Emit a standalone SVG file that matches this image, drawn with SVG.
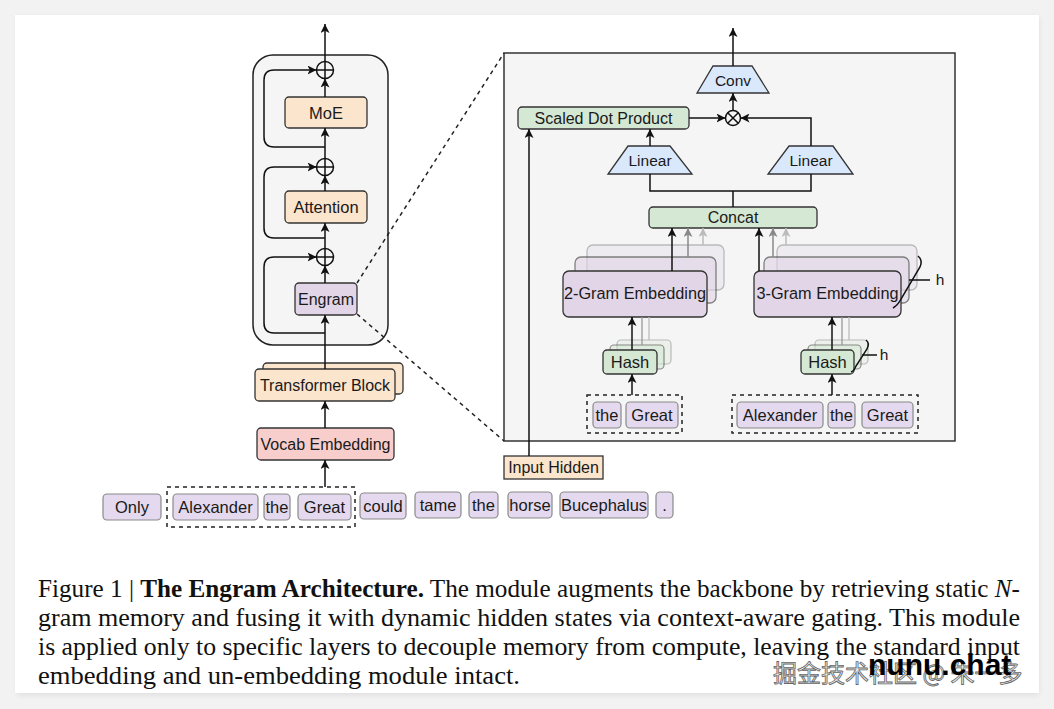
<svg xmlns="http://www.w3.org/2000/svg" width="1054" height="709" viewBox="0 0 1054 709">
<defs>
<marker id="ah" viewBox="0 0 10 10" refX="10" refY="5" markerWidth="9" markerHeight="9" markerUnits="userSpaceOnUse" orient="auto"><path d="M0,0 L10,5 L0,10 L2.5,5 Z" fill="#111"/></marker>
<marker id="ahg" viewBox="0 0 10 10" refX="10" refY="5" markerWidth="9" markerHeight="9" markerUnits="userSpaceOnUse" orient="auto"><path d="M0,0 L10,5 L0,10 L2.5,5 Z" fill="#888"/></marker>
<marker id="ahl" viewBox="0 0 10 10" refX="10" refY="5" markerWidth="9" markerHeight="9" markerUnits="userSpaceOnUse" orient="auto"><path d="M0,0 L10,5 L0,10 L2.5,5 Z" fill="#bbb"/></marker>
<filter id="sh" x="-5%" y="-5%" width="110%" height="110%"><feGaussianBlur stdDeviation="3"/></filter>
</defs>
<style>
.t{font-family:"Liberation Sans",Arial,sans-serif;fill:#1a1a1a;text-anchor:middle;dominant-baseline:central}
.peach{fill:#fce5cd;stroke:#333;stroke-width:1.3}
.lav{fill:#e1d5e7;stroke:#333;stroke-width:1.3}
.grn{fill:#d5e8d4;stroke:#333;stroke-width:1.3}
.blu{fill:#dae8fc;stroke:#333;stroke-width:1.3}
.pink{fill:#f8cecc;stroke:#333;stroke-width:1.3}
.tok{fill:#e4d9ee;stroke:#8a8a8a;stroke-width:1.2}
.ln{fill:none;stroke:#111;stroke-width:1.5}
.dash{fill:none;stroke:#222;stroke-width:1.5;stroke-dasharray:4,4}
.cap{font-family:"Liberation Serif","Times New Roman",serif;font-size:25px;fill:#111}
</style>
<rect x="0" y="0" width="1054" height="709" fill="#f2f2f2"/>
<rect x="17" y="17" width="1022" height="678" fill="#000" opacity="0.08" filter="url(#sh)"/>
<rect x="15" y="15" width="1024" height="678" fill="#fff"/>

<!-- Left column -->
<g id="block-container"><rect x="253" y="55" width="135" height="290" rx="20" fill="#f5f5f5" stroke="#222" stroke-width="1.5"/></g>

<g id="plus1"><circle cx="325" cy="70" r="8.5" fill="none" stroke="#111" stroke-width="1.5"/><path d="M316.5,70 H333.5 M325,61.5 V78.5" stroke="#111" stroke-width="1.5"/></g>
<g id="plus2"><circle cx="325" cy="167" r="8.5" fill="none" stroke="#111" stroke-width="1.5"/><path d="M316.5,167 H333.5 M325,158.5 V175.5" stroke="#111" stroke-width="1.5"/></g>
<g id="plus3"><circle cx="325" cy="257" r="8.5" fill="none" stroke="#111" stroke-width="1.5"/><path d="M316.5,257 H333.5 M325,248.5 V265.5" stroke="#111" stroke-width="1.5"/></g>

<g id="moe"><rect x="285" y="97" width="82" height="31" rx="4" class="peach"/><text x="326" y="112.5" class="t" font-size="16.5">MoE</text></g>
<g id="attention"><rect x="285" y="191" width="82" height="32" rx="4" class="peach"/><text x="326" y="207" class="t" font-size="16.5">Attention</text></g>
<g id="engram"><rect x="295" y="283" width="62" height="32" rx="4" class="lav"/><text x="326" y="299" class="t" font-size="16">Engram</text></g>

<g id="transformer-block">
<rect x="263" y="363" width="140" height="31" rx="4" class="peach"/>
<rect x="255" y="369" width="140" height="32" rx="4" class="peach"/>
<text x="325" y="385" class="t" font-size="16">Transformer Block</text></g>
<g id="vocab-embedding"><rect x="257" y="428" width="137" height="32" rx="4" class="pink"/><text x="325.5" y="444" class="t" font-size="16">Vocab Embedding</text></g>

<g id="tokens">
<rect x="167" y="487" width="188" height="40" class="dash"/>
<rect x="103" y="494" width="58" height="26" rx="4" class="tok"/><text x="132" y="507" class="t" font-size="16.5">Only</text>
<rect x="173" y="494" width="85" height="26" rx="4" class="tok"/><text x="215.5" y="507" class="t" font-size="16.5">Alexander</text>
<rect x="264" y="494" width="26" height="26" rx="4" class="tok"/><text x="277" y="507" class="t" font-size="16.5">the</text>
<rect x="298" y="494" width="53" height="26" rx="4" class="tok"/><text x="324.5" y="507" class="t" font-size="16.5">Great</text>
<rect x="360" y="493" width="46" height="26" rx="4" class="tok"/><text x="383" y="506" class="t" font-size="16.5">could</text>
<rect x="415" y="492" width="46" height="26" rx="4" class="tok"/><text x="438" y="505" class="t" font-size="16.5">tame</text>
<rect x="469" y="492" width="29" height="26" rx="4" class="tok"/><text x="483.5" y="505" class="t" font-size="16.5">the</text>
<rect x="508" y="492" width="44" height="26" rx="4" class="tok"/><text x="530" y="505" class="t" font-size="16.5">horse</text>
<rect x="560" y="492" width="88" height="26" rx="4" class="tok"/><text x="604" y="505" class="t" font-size="16.5">Bucephalus</text>
<rect x="656" y="492" width="17" height="26" rx="4" class="tok"/><text x="664.5" y="505" class="t" font-size="16.5">.</text>
</g>

<!-- Right panel -->
<g id="engram-panel"><rect x="504" y="53" width="451" height="388" fill="#f5f5f5" stroke="#333" stroke-width="1.5"/></g>

<g id="conv"><path d="M713,66 H752 L769,93 H697 Z" class="blu"/><text x="733" y="80" class="t" font-size="15.5">Conv</text></g>
<g id="otimes"><circle cx="733" cy="118" r="7.5" fill="none" stroke="#111" stroke-width="1.5"/><path d="M727.7,112.7 L738.3,123.3 M738.3,112.7 L727.7,123.3" stroke="#111" stroke-width="1.5"/></g>
<g id="scaled-dot-product"><rect x="518" y="107" width="171" height="22" rx="4" class="grn"/><text x="603.5" y="118" class="t" font-size="16">Scaled Dot Product</text></g>
<g id="linear-left"><path d="M628,146 H670 L692,174 H608 Z" class="blu"/><text x="650" y="160" class="t" font-size="15.5">Linear</text></g>
<g id="linear-right"><path d="M789,146 H833 L853,174 H768 Z" class="blu"/><text x="811" y="160" class="t" font-size="15.5">Linear</text></g>
<g id="concat"><rect x="649" y="207" width="168" height="21" rx="4" class="grn"/><text x="733" y="217.5" class="t" font-size="16">Concat</text></g>

<g id="emb2">
<rect x="587" y="245" width="137" height="45" rx="6" fill="#e1d5e7" stroke="#333" stroke-width="1.3" opacity="0.3"/>
<rect x="575" y="257" width="141" height="46" rx="6" fill="#e1d5e7" stroke="#333" stroke-width="1.3" opacity="0.6"/>
<rect x="563" y="271" width="144" height="46" rx="6" class="lav"/>
<text x="635" y="293" class="t" font-size="16.3">2-Gram Embedding</text></g>
<g id="emb3">
<rect x="777" y="245" width="140" height="45" rx="6" fill="#e1d5e7" stroke="#333" stroke-width="1.3" opacity="0.3"/>
<rect x="764" y="257" width="145" height="46" rx="6" fill="#e1d5e7" stroke="#333" stroke-width="1.3" opacity="0.6"/>
<rect x="754" y="271" width="147" height="46" rx="6" class="lav"/>
<text x="827.5" y="293" class="t" font-size="16.3">3-Gram Embedding</text>
<path d="M918,256 q5,4 2,11 L901,299 q-3,6 -8,9" class="ln" stroke-width="1.3"/>
<path d="M909,280 H930" class="ln" stroke-width="1.3"/>
<text x="940" y="279" class="t" font-size="15.5">h</text></g>

<g id="hash2">
<rect x="617" y="340" width="54" height="24" rx="4" fill="#d5e8d4" stroke="#333" stroke-width="1.2" opacity="0.3"/>
<rect x="610" y="345" width="54" height="24" rx="4" fill="#d5e8d4" stroke="#333" stroke-width="1.2" opacity="0.55"/>
<rect x="603" y="350" width="54" height="24" rx="4" class="grn"/>
<text x="630" y="362" class="t" font-size="16.5">Hash</text></g>
<g id="hash3">
<rect x="815" y="340" width="53" height="24" rx="4" fill="#d5e8d4" stroke="#333" stroke-width="1.2" opacity="0.3"/>
<rect x="808" y="345" width="53" height="24" rx="4" fill="#d5e8d4" stroke="#333" stroke-width="1.2" opacity="0.55"/>
<rect x="801" y="350" width="53" height="24" rx="4" class="grn"/>
<text x="827.5" y="362" class="t" font-size="16.5">Hash</text>
<path d="M866,340 q4,3 1,9 L856,366 q-2,5 -5,6" class="ln" stroke-width="1.3"/>
<path d="M862,355 H877" class="ln" stroke-width="1.3"/>
<text x="884" y="354" class="t" font-size="15.5">h</text></g>

<g id="tokens2">
<rect x="587" y="395" width="95" height="38" class="dash" stroke-width="1.2"/>
<rect x="593" y="402" width="28" height="26" rx="4" class="tok"/><text x="607" y="415" class="t" font-size="16.5">the</text>
<rect x="626" y="402" width="52" height="26" rx="4" class="tok"/><text x="652" y="415" class="t" font-size="16.5">Great</text></g>
<g id="tokens3">
<rect x="732" y="395" width="186" height="38" class="dash" stroke-width="1.2"/>
<rect x="737" y="402" width="86" height="26" rx="4" class="tok"/><text x="780" y="415" class="t" font-size="16.5">Alexander</text>
<rect x="828" y="402" width="27" height="26" rx="4" class="tok"/><text x="841.5" y="415" class="t" font-size="16.5">the</text>
<rect x="862" y="402" width="51" height="26" rx="4" class="tok"/><text x="887.5" y="415" class="t" font-size="16.5">Great</text></g>

<g id="input-hidden"><rect x="504" y="456" width="99" height="23" class="peach" stroke-width="1.2"/><text x="553.5" y="467.5" class="t" font-size="16">Input Hidden</text></g>

<g id="connectors">
<path d="M325,61.5 V24" class="ln" marker-end="url(#ah)"/>
<path d="M325,97 V78.5" class="ln" marker-end="url(#ah)"/>
<path d="M325,158.5 V128" class="ln" marker-end="url(#ah)"/>
<path d="M325,191 V175.5" class="ln" marker-end="url(#ah)"/>
<path d="M325,248.5 V223" class="ln" marker-end="url(#ah)"/>
<path d="M325,283 V265.5" class="ln" marker-end="url(#ah)"/>
<path d="M325,369 V315" class="ln" marker-end="url(#ah)"/>
<path d="M325,428 V401" class="ln" marker-end="url(#ah)"/>
<path d="M325,487 V460" class="ln" marker-end="url(#ah)"/>
<path d="M325,147 H274 Q264,147 264,137 V80 Q264,70 274,70 H316.5" class="ln" marker-end="url(#ah)"/>
<path d="M325,238 H274 Q264,238 264,228 V177 Q264,167 274,167 H316.5" class="ln" marker-end="url(#ah)"/>
<path d="M325,333 H274 Q264,333 264,323 V267 Q264,257 274,257 H316.5" class="ln" marker-end="url(#ah)"/>
<path d="M357,283 L504,53" class="dash"/>
<path d="M357,314 L504,441" class="dash"/>
<path d="M733,66 V28" class="ln" marker-end="url(#ah)"/>
<path d="M733,110.5 V93" class="ln" marker-end="url(#ah)"/>
<path d="M689,118 H725.5" class="ln" marker-end="url(#ah)"/>
<path d="M811,146 V118 H740.5" class="ln" marker-end="url(#ah)"/>
<path d="M650,146 V129" class="ln" marker-end="url(#ah)"/>
<path d="M650,174 V191 H811 V174 M733,191 V207" class="ln"/>
<path d="M529,456 V129" class="ln" marker-end="url(#ah)"/>
<path d="M672,271 V228" class="ln" marker-end="url(#ah)"/>
<path d="M688,257 V228" fill="none" stroke="#888" stroke-width="1.5" marker-end="url(#ahg)"/>
<path d="M703,245 V228" fill="none" stroke="#bbb" stroke-width="1.5" marker-end="url(#ahl)"/>
<path d="M759,271 V228" class="ln" marker-end="url(#ah)"/>
<path d="M773,257 V228" fill="none" stroke="#888" stroke-width="1.5" marker-end="url(#ahg)"/>
<path d="M786,245 V228" fill="none" stroke="#bbb" stroke-width="1.5" marker-end="url(#ahl)"/>
<path d="M632,350 V317" class="ln" marker-end="url(#ah)"/>
<path d="M642,345 V317" fill="none" stroke="#999" stroke-width="1.3"/>
<path d="M649,340 V317" fill="none" stroke="#bbb" stroke-width="1.3"/>
<path d="M632,395 V374" class="ln" marker-end="url(#ah)"/>
<path d="M832,350 V317" class="ln" marker-end="url(#ah)"/>
<path d="M842,345 V317" fill="none" stroke="#999" stroke-width="1.3"/>
<path d="M849,340 V317" fill="none" stroke="#bbb" stroke-width="1.3"/>
<path d="M832,395 V374" class="ln" marker-end="url(#ah)"/>
</g>

<g id="caption">
<text x="38" y="597" class="cap" textLength="982" lengthAdjust="spacingAndGlyphs">Figure 1 | <tspan font-weight="bold">The Engram Architecture.</tspan> The module augments the backbone by retrieving static <tspan font-style="italic">N</tspan>-</text>
<text x="38" y="626" class="cap" textLength="982" lengthAdjust="spacingAndGlyphs">gram memory and fusing it with dynamic hidden states via context-aware gating. This module</text>
<text x="38" y="655" class="cap" textLength="982" lengthAdjust="spacingAndGlyphs">is applied only to specific layers to decouple memory from compute, leaving the standard input</text>
<text x="38" y="684" class="cap" textLength="482" lengthAdjust="spacingAndGlyphs">embedding and un-embedding module intact.</text>
</g>

<g id="watermark">
<text x="773" y="682" font-family="'Noto Sans CJK SC',sans-serif" font-size="24" fill="#ececec" stroke="#666" stroke-width="0.8">掘金技术社区 @ 朱一多</text>
<text x="868" y="675" font-family="'Liberation Sans',Arial,sans-serif" font-weight="bold" font-size="30" fill="#000">nunu.chat</text>
</g>
</svg>
